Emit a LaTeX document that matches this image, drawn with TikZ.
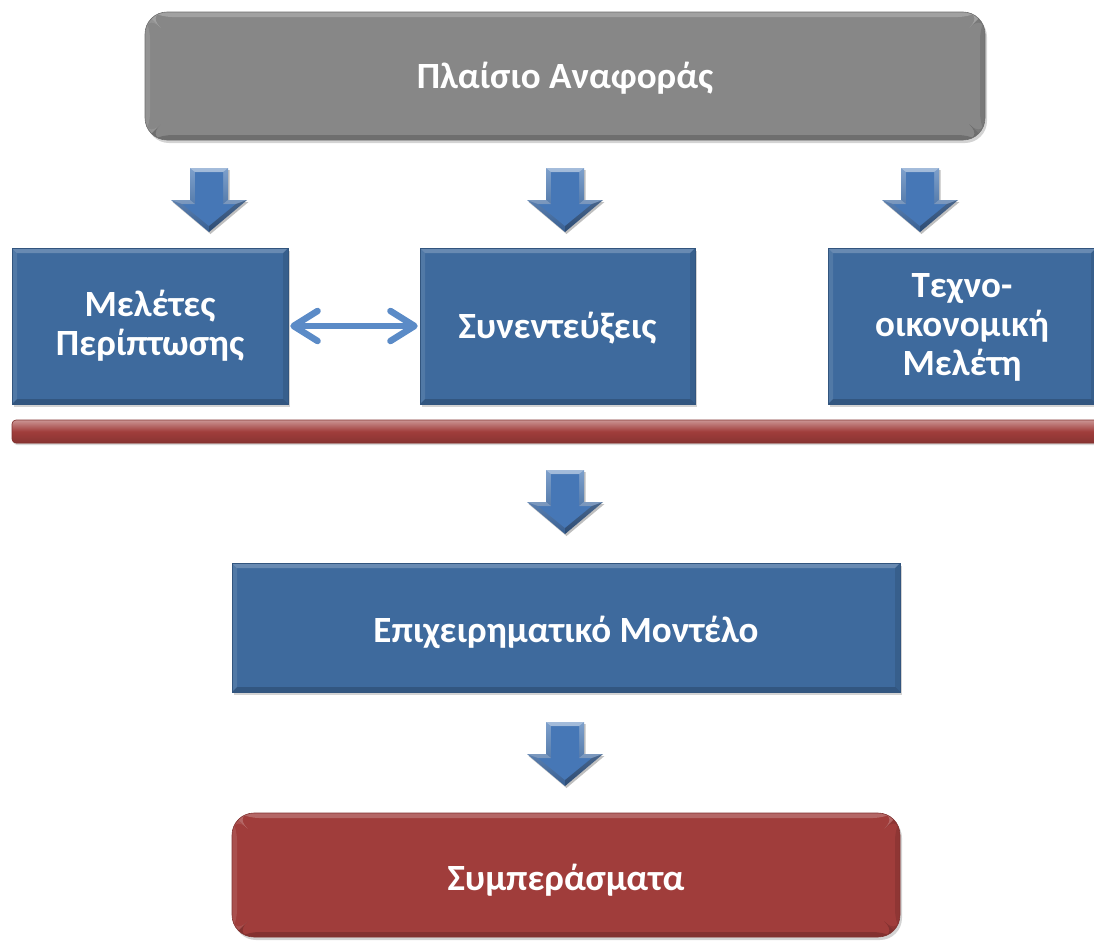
\documentclass[tikz,border=0pt]{standalone}
\usepackage{fontspec}
\setmainfont{Carlito}
\usetikzlibrary{shadows,arrows.meta}

\definecolor{boxblue}{HTML}{3E6A9D}
\definecolor{boxgrey}{HTML}{878787}
\definecolor{boxred}{HTML}{A03D3B}
\definecolor{arrowblue}{HTML}{4677B6}
\definecolor{linkblue}{HTML}{5B8BC7}

% stacked lines with a fixed first baseline: #1 = height, #2 = depth of the block
\newcommand{\linesblock}[3]{\raisebox{0pt}[#1][#2]{\begin{tabular}[t]{@{}c@{}}#3\end{tabular}}}

\tikzset{
  bevel/.style={
    path picture={
      \fill[white,opacity=0.22]
        (path picture bounding box.north west) --
        (path picture bounding box.north east) --
        ([xshift=-5pt,yshift=-5pt]path picture bounding box.north east) --
        ([xshift=5pt,yshift=-5pt]path picture bounding box.north west) -- cycle;
      \fill[white,opacity=0.10]
        (path picture bounding box.north west) --
        ([xshift=5pt,yshift=-5pt]path picture bounding box.north west) --
        ([xshift=5pt,yshift=5pt]path picture bounding box.south west) --
        (path picture bounding box.south west) -- cycle;
      \fill[black,opacity=0.18]
        (path picture bounding box.south west) --
        (path picture bounding box.south east) --
        ([xshift=-5pt,yshift=5pt]path picture bounding box.south east) --
        ([xshift=5pt,yshift=5pt]path picture bounding box.south west) -- cycle;
      \fill[black,opacity=0.10]
        (path picture bounding box.north east) --
        ([xshift=-5pt,yshift=-5pt]path picture bounding box.north east) --
        ([xshift=-5pt,yshift=5pt]path picture bounding box.south east) --
        (path picture bounding box.south east) -- cycle;
    }},
  card/.style={
    rectangle, bevel, text=white, align=center,
    font=\bfseries\fontsize{37}{39}\selectfont,
    drop shadow={opacity=0.35, shadow xshift=2pt, shadow yshift=-3pt},
    inner sep=0pt, text depth=0pt, text height=24pt},
  bluecard/.style={card, fill=boxblue, draw=boxblue!80!black, line width=0.6pt},
  roundcard/.style={card, rounded corners=22pt, line width=0.6pt},
  bar/.style={rectangle, rounded corners=4pt, fill=boxred, draw=boxred!80!black,
    line width=0.6pt, inner sep=0pt,
    top color=boxred!55!white, bottom color=boxred!85!black, middle color=boxred,
    drop shadow={opacity=0.3, shadow xshift=1pt, shadow yshift=-2pt}},
  link/.style={draw=linkblue, line width=6.5pt, line cap=round, line join=round,
    {Straight Barb[length=24pt,width=30pt,round]}-{Straight Barb[length=24pt,width=30pt,round]}},
  downarrow/.pic={
    \fill[black,opacity=0.25,xshift=1.5pt,yshift=-2pt]
      (-19,0) -- (19,0) -- (19,32) -- (38,32) -- (0,64) -- (-38,32) -- (-19,32) -- cycle;
    \shade[top color=arrowblue!70!white, bottom color=arrowblue!80!black]
      (-19,0) -- (19,0) -- (19,32) -- (38,32) -- (0,64) -- (-38,32) -- (-19,32) -- cycle;
    \fill[arrowblue]
      (-14,4) -- (14,4) -- (14,36) -- (27,36) -- (0,58) -- (-27,36) -- (-14,36) -- cycle;
    \fill[white,opacity=0.3] (-19,0) -- (19,0) -- (14,4) -- (-14,4) -- cycle;
    \fill[white,opacity=0.2] (-38,32) -- (-19,32) -- (-14,36) -- (-27,36) -- cycle;
    \fill[white,opacity=0.2] (38,32) -- (19,32) -- (14,36) -- (27,36) -- cycle;
    \fill[black,opacity=0.2] (38,32) -- (0,64) -- (0,58) -- (27,36) -- cycle;
  }
}

\begin{document}
\begin{tikzpicture}[x=1pt,y=-1pt]
  \useasboundingbox (0,0) rectangle (1094,940);
  \clip (0,0) rectangle (1094,940);

  % frame of reference
  \node[roundcard, fill=boxgrey, draw=boxgrey!80!black,
        minimum width=840pt, minimum height=128pt] (frame) at (565,76) {Πλαίσιο Αναφοράς};

  % three research streams
  \pic at (209,168) {downarrow};
  \pic at (565,168) {downarrow};
  \pic at (920,168) {downarrow};

  \node[bluecard, text height=, text depth=, minimum width=276pt, minimum height=156pt] (cases) at (150,326)
    {\linesblock{27pt}{47pt}{Μελέτες\\Περίπτωσης}};
  \node[bluecard, minimum width=275pt, minimum height=156pt] (interviews) at (557.5,326)
    {Συνεντεύξεις};
  \node[bluecard, text height=, text depth=, minimum width=268pt, minimum height=156pt] (techno) at (962,326)
    {\linesblock{27pt}{85pt}{Τεχνο-\\οικονομική\\Μελέτη}};

  \draw[link, shorten <=2pt, shorten >=2pt] (cases.east) -- (interviews.west);

  % joining bar
  \node[bar, minimum width=1090pt, minimum height=23pt] (bar) at (557,431.5) {};

  \pic at (565,470) {downarrow};
  \node[bluecard, text height=29pt, minimum width=668pt, minimum height=129pt] (model) at (566,627.5)
    {Επιχειρηματικό Μοντέλο};

  \pic at (565,722) {downarrow};
  \node[roundcard, text height=31pt, fill=boxred, draw=boxred!80!black,
        minimum width=668pt, minimum height=124pt] (concl) at (566,875) {Συμπεράσματα};
\end{tikzpicture}
\end{document}
